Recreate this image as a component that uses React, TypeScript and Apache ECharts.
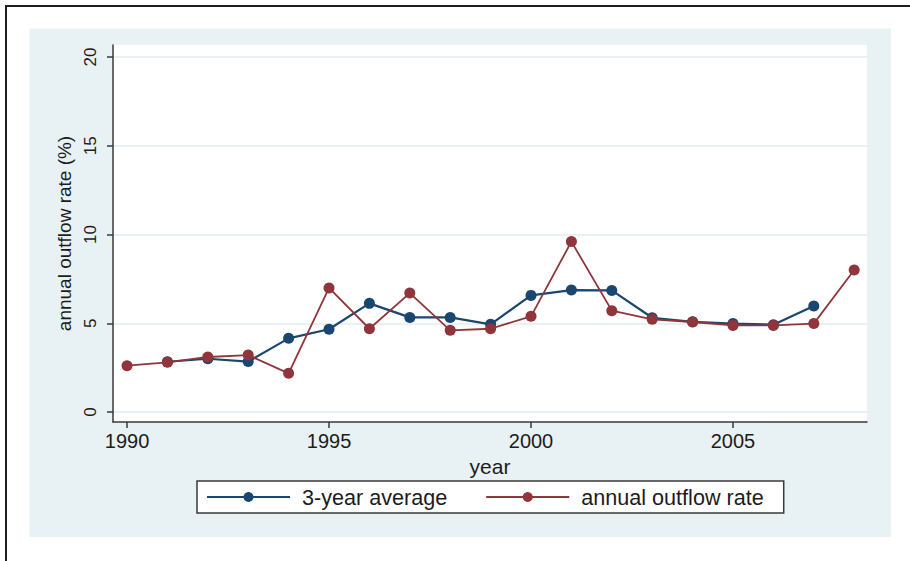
import React, { useEffect, useRef } from "react";
import * as echarts from "echarts";

const years = [1990, 1991, 1992, 1993, 1994, 1995, 1996, 1997, 1998, 1999, 2000, 2001, 2002, 2003, 2004, 2005, 2006, 2007, 2008];
const annualRate = [2.61, 2.8, 3.1, 3.21, 2.18, 6.99, 4.69, 6.7, 4.6, 4.69, 5.39, 9.6, 5.71, 5.22, 5.07, 4.88, 4.88, 4.98, 8.0];
const avgYears = [1991, 1992, 1993, 1994, 1995, 1996, 1997, 1998, 1999, 2000, 2001, 2002, 2003, 2004, 2005, 2006, 2007];
const avg3 = [2.83, 3.0, 2.84, 4.15, 4.66, 6.12, 5.33, 5.33, 4.94, 6.57, 6.87, 6.85, 5.31, 5.08, 4.98, 4.92, 5.97];
const xTicks = [1990, 1995, 2000, 2005];
const yTicks = [0, 5, 10, 15, 20];

const FONT = "'Liberation Sans', Arial, Helvetica, sans-serif";
const TXT = "#1c1c1c";
const AXIS = "#3a3a3a";
const BLUE = "#1a476f";
const RED = "#90353b";

export default function App() {
  const ref = useRef<HTMLDivElement>(null);
  useEffect(() => {
    document.body.style.margin = "0";
    const chart = echarts.init(ref.current!, null, { renderer: "svg" });
    chart.setOption({
      animation: false,
      backgroundColor: "#ffffff",
      textStyle: { fontFamily: FONT, color: TXT },
      graphic: [
        { type: "rect", z: -10, shape: { x: 29.5, y: 28.5, width: 861.5, height: 508.5 }, style: { fill: "#e8f1f3" } },
        { type: "line", z: 10, shape: { x1: 5, y1: 6, x2: 910, y2: 6 }, style: { stroke: "#231f20", lineWidth: 2 } },
        { type: "line", z: 10, shape: { x1: 6, y1: 5, x2: 6, y2: 561 }, style: { stroke: "#231f20", lineWidth: 2 } },
      ],
      grid: {
        left: 113,
        right: 43,
        top: 45,
        bottom: 139,
        show: true,
        backgroundColor: "#ffffff",
        borderWidth: 0,
      },
      legend: {
        left: 197,
        top: 481,
        orient: "horizontal",
        backgroundColor: "#ffffff",
        borderColor: AXIS,
        borderWidth: 1.5,
        borderRadius: 0,
        padding: [5, 20, 5, 9],
        itemGap: 38,
        itemWidth: 83,
        itemHeight: 12.5,
        textStyle: { fontSize: 21.6, color: TXT, fontFamily: FONT, padding: [0, 0, 0, 7] },
        data: ["3-year average", "annual outflow rate"],
      },
      xAxis: {
        type: "value",
        min: 1989.653,
        max: 2008.317,
        name: "year",
        nameLocation: "middle",
        nameGap: 23,
        nameTextStyle: { fontSize: 21, color: TXT, fontFamily: FONT },
        axisLine: { show: true, onZero: false, lineStyle: { color: AXIS, width: 1.5 } },
        axisTick: { show: true, customValues: xTicks, length: 6, lineStyle: { color: AXIS, width: 1.5 } },
        axisLabel: {
          customValues: xTicks,
          fontSize: 20,
          margin: 9,
          color: TXT,
          fontFamily: FONT,
          formatter: (v: number) => String(Math.round(v)),
        },
        splitLine: { show: false },
      },
      yAxis: {
        type: "value",
        min: -0.563,
        max: 20.676,
        name: "annual outflow rate (%)",
        nameLocation: "middle",
        nameGap: 36,
        nameTextStyle: { fontSize: 19, color: TXT, fontFamily: FONT },
        axisLine: { show: true, onZero: false, lineStyle: { color: AXIS, width: 1.5 } },
        axisTick: { show: true, customValues: yTicks, length: 6, lineStyle: { color: AXIS, width: 1.5 } },
        axisLabel: {
          customValues: yTicks,
          rotate: 90,
          fontSize: 17,
          margin: 14,
          color: TXT,
          fontFamily: FONT,
          formatter: (v: number) => String(Math.round(v)),
        },
        splitLine: { show: true, lineStyle: { color: "#e2edf0", width: 1.5 } },
      },
      series: [
        {
          name: "3-year average",
          type: "line",
          data: avgYears.map((y, i) => [y, avg3[i]]),
          symbol: "circle",
          symbolSize: 11,
          lineStyle: { color: BLUE, width: 2.2 },
          itemStyle: { color: BLUE },
          z: 2,
        },
        {
          name: "annual outflow rate",
          type: "line",
          data: years.map((y, i) => [y, annualRate[i]]),
          symbol: "circle",
          symbolSize: 11,
          lineStyle: { color: RED, width: 1.8 },
          itemStyle: { color: RED },
          z: 3,
        },
      ],
    });
    return () => chart.dispose();
  }, []);
  return <div ref={ref} style={{ width: 910, height: 561 }} />;
}
